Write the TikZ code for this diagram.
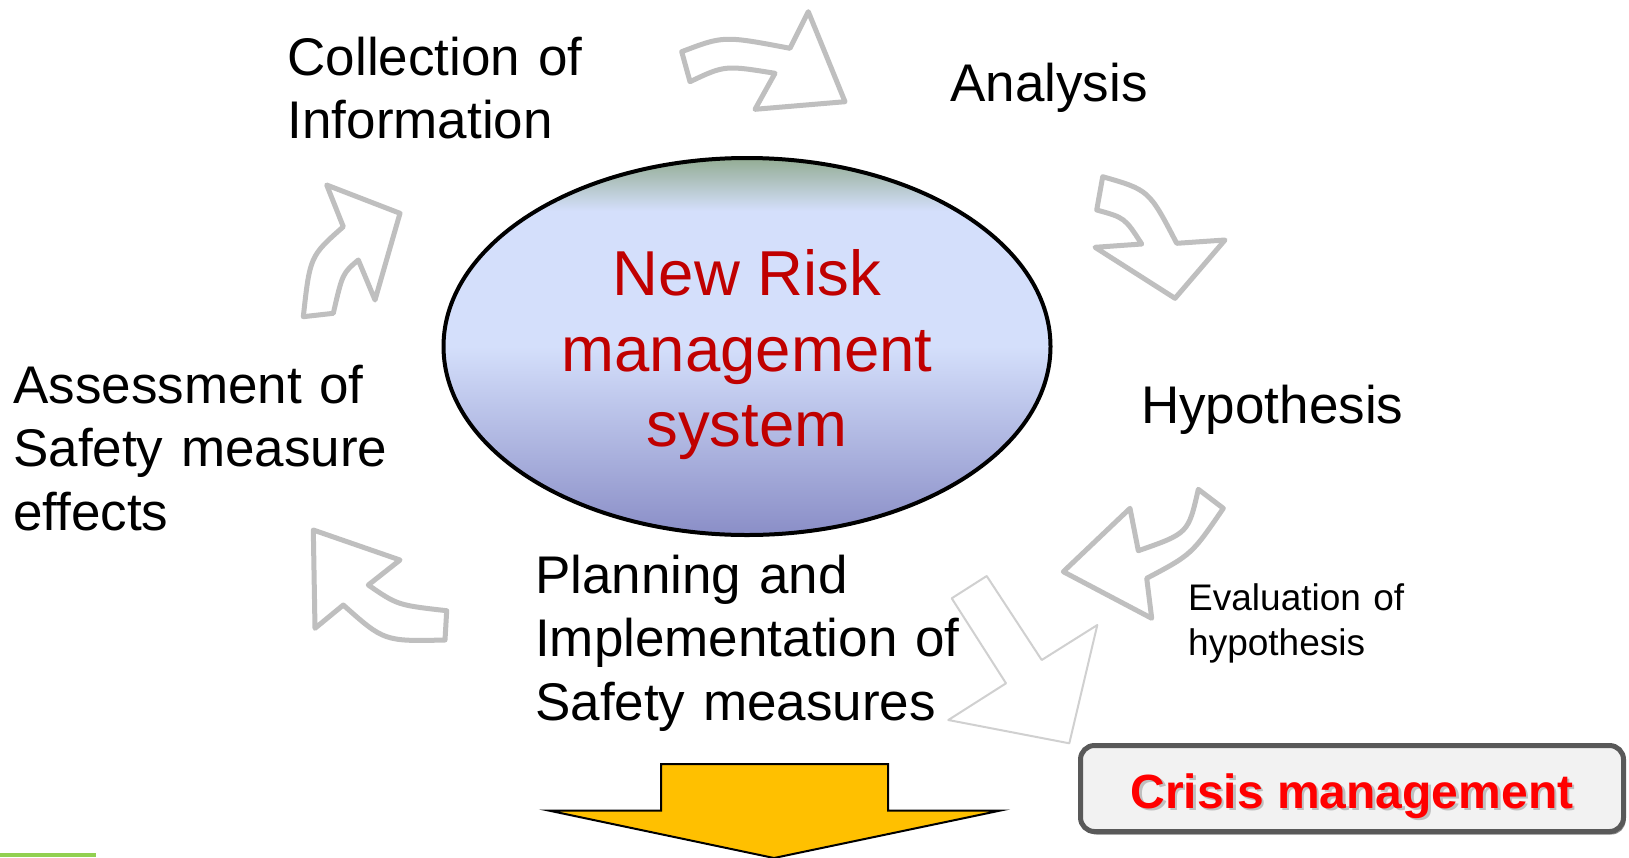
\documentclass[tikz,border=0pt]{standalone}
\usepackage{fontspec}
\setmainfont{Liberation Sans}
\usepackage{tikz}
\usetikzlibrary{shapes.geometric,shadows}

\definecolor{arrowgray}{HTML}{BFBFBF}
\definecolor{paleline}{HTML}{D0D0D0}
\definecolor{riskred}{HTML}{C00000}
\definecolor{risktop}{HTML}{93AC93}
\definecolor{riskmid}{HTML}{D4DFFB}
\definecolor{riskbot}{HTML}{8A8EC7}
\definecolor{boxgray}{HTML}{595959}
\definecolor{boxfill}{HTML}{F2F2F2}
\definecolor{goyellow}{HTML}{FFC000}
\definecolor{linegreen}{HTML}{92D050}

\pgfdeclareverticalshading{riskshade}{100bp}{color(0bp)=(riskbot); color(25bp)=(riskbot); color(50bp)=(riskmid); color(68bp)=(riskmid); color(75bp)=(risktop); color(100bp)=(risktop)}

\tikzset{steplabel/.style={anchor=base west, inner sep=0pt, align=left, text width=460pt,
           font=\fontsize{53}{63.5}\selectfont},
         smalllabel/.style={steplabel, font=\fontsize{37}{45}\selectfont},
         cyclearrow/.style={draw=arrowgray, line width=5pt, fill=white, line join=round},
         leadarrow/.style={draw=paleline, line width=2pt, fill=white, line join=round},
         crisisfont/.style={anchor=base, inner sep=0pt, font=\bfseries\fontsize{48}{56}\selectfont}}

\begin{document}
\begin{tikzpicture}[x=1pt, y=-1pt]
                \useasboundingbox (0,0) rectangle (1629,857);
                \node (core) [ellipse, draw, line width=4pt, shading=riskshade, inner sep=0pt,
                  minimum width=607pt, minimum height=377pt] at (747,346.5) {};
                \node (coretext) [text=riskred, align=center, inner sep=0pt,
                  font=\fontsize{63.5}{75.5}\selectfont] at (747,355) {New Risk\\management\\system};

                % the cycle of curved arrows
                \draw[cyclearrow] (681.7,51.7) .. controls (723.6,35.7) .. (790,48.3) -- (808.3,11.7)
                  -- (845,101.7) -- (755,109.3) -- (775,73.3) .. controls (724.8,65.2) .. (690,81.7) -- cycle;
                \draw[cyclearrow] (1102.7,176.7) .. controls (1149,190) .. (1176.7,243.3) -- (1225,240)
                  -- (1175,298.3) -- (1095,247.3) -- (1141.7,244) .. controls (1124.7,217.7) .. (1096.7,210) -- cycle;
                \draw[cyclearrow] (1223.3,508.3) -- (1198.3,489.3) .. controls (1188.3,533.3) .. (1138.3,550.7)
                  -- (1130,508.3) -- (1063.3,571.7) -- (1151.7,618.3) -- (1146.7,578.3)
                  .. controls (1191.7,554.5) .. cycle;
                \draw[cyclearrow] (313.3,530) -- (400,560) -- (368.3,585) .. controls (397.5,605.1) .. (446.7,610.7)
                  -- (445,640) .. controls (384.2,641.4) .. (343.3,605) -- (315,628.3) -- cycle;
                \draw[cyclearrow] (326.7,185) -- (400,213.3) -- (375,300) -- (358.3,260)
                  .. controls (342.5,273.4) .. (333.3,313.3) -- (303.3,316.7)
                  .. controls (310,256.1) .. (343.3,226.7) -- cycle;
                \draw[leadarrow] (951.7,598.3) -- (986.7,576) -- (1041.7,660) -- (1097.3,625)
                  -- (1069.3,743.3) -- (948.3,720) -- (1006,683.3) -- cycle;

                \node (crisis) [draw=boxgray, fill=boxfill, line width=5pt, rounded corners=14pt,
                  minimum width=543pt, minimum height=86pt,
                  drop shadow={shadow xshift=2pt, shadow yshift=-3pt, fill=black, opacity=0.45}] at (1352,788.5) {};
                \node (crisisshade) [crisisfont, text=black!25] at (1354.5,810.5) {Crisis management};
                \node (crisistext) [crisisfont, text=red] at (1352,808) {Crisis management};

                \node (collect)  [steplabel] at (287.5,75)  {Collection of\\Information};
                \node (analysis) [steplabel] at (950,101)   {Analysis};
                \node (hypo)     [steplabel] at (1141,423)  {Hypothesis};
                \node (evalhypo) [smalllabel] at (1188,610.7) {Evaluation of\\hypothesis};
                \node (plan)     [steplabel] at (535,593.3) {Planning and\\Implementation of\\Safety measures};
                \node (assess)   [steplabel] at (13,403.3)  {Assessment of\\Safety measure\\effects};

                \draw[fill=goyellow, line width=2pt] (661,764) -- (888,764) -- (888,810.5) -- (1000.5,810.5)
                  -- (774,858) -- (548.5,810.5) -- (661,810.5) -- cycle;
                \draw[linegreen, line width=4pt] (0,855) -- (96,855);
              \end{tikzpicture}
\end{document}
